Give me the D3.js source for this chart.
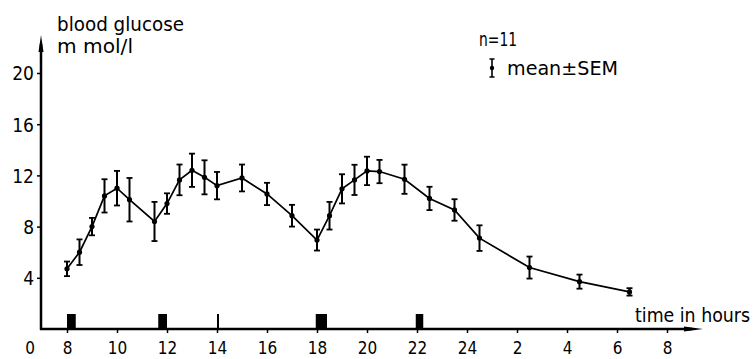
<!DOCTYPE html>
<html><head><meta charset="utf-8">
<script src="https://cdn.jsdelivr.net/npm/d3@7"></script>
<style>
html,body{margin:0;padding:0;background:#fff;}
svg{display:block;}
text{font-family:"Liberation Sans Narrow","DejaVu Sans Condensed","Liberation Sans",sans-serif;fill:#000;}
</style></head>
<body>
<script>
// time of day in hours (values > 24 belong to the next day)
const hours  = [8, 8.5, 9, 9.5, 10, 10.5, 11.5, 12, 12.5, 13, 13.5, 14, 15, 16, 17, 18, 18.5, 19, 19.5, 20, 20.5, 21.5, 22.5, 23.5, 24.5, 26.5, 28.5, 30.5];
// mean blood glucose, mmol/l
const means  = [4.7, 6.0, 8.0, 10.4, 11.0, 10.1, 8.4, 9.8, 11.65, 12.4, 11.85, 11.2, 11.8, 10.55, 8.85, 6.95, 8.85, 10.95, 11.65, 12.35, 12.3, 11.7, 10.2, 9.3, 7.1, 4.8, 3.7, 2.9];
// standard error of the mean
const sems   = [0.57, 1.0, 0.68, 1.3, 1.35, 1.7, 1.53, 0.8, 1.2, 1.3, 1.33, 1.07, 1.05, 0.87, 0.85, 0.82, 1.08, 1.14, 1.18, 1.11, 0.91, 1.14, 0.91, 0.84, 1.0, 0.86, 0.55, 0.29];
// meals (start, end in hours)
const mealStart = [8, 11.65, 14, 17.95, 21.95];
const mealEnd   = [8.35, 12, 14.06, 18.4, 22.25];
// ticks
const xTicks = [8, 10, 12, 14, 16, 18, 20, 22, 24, 26, 28, 30, 32];
const xTickLabels = ["8", "10", "12", "14", "16", "18", "20", "22", "24", "2", "4", "6", "8"];
const yTicks = [4, 8, 12, 16, 20];
const originLabel = "0";

const W = 755, H = 359;
const svg = d3.select("body").append("svg").attr("width", W).attr("height", H);

const x = d3.scaleLinear().domain([8, 32]).range([67, 667]);
const y = d3.scaleLinear().domain([0, 20]).range([329, 73]);
const axisX = 41, axisY = y(0);

// x axis ticks
const xAxis = d3.axisBottom(x).tickValues(xTicks).tickSize(4).tickSizeOuter(0)
  .tickFormat((d, i) => xTickLabels[i]);
const gx = svg.append("g").attr("transform", `translate(0,${axisY})`).call(xAxis);
gx.select(".domain").remove();
gx.selectAll(".tick line").attr("stroke", "#000").attr("stroke-width", 1.5);
gx.selectAll(".tick text").attr("font-size", 17).attr("dy", 0).attr("y", 25);
svg.append("text").attr("x", 30).attr("y", axisY + 25).attr("text-anchor", "middle")
  .attr("font-size", 17).text(originLabel);

// y axis ticks
const yAxis = d3.axisLeft(y).tickValues(yTicks).tickSize(4).tickSizeOuter(0).tickPadding(3);
const gy = svg.append("g").attr("transform", `translate(${axisX},0)`).call(yAxis);
gy.select(".domain").remove();
gy.selectAll(".tick line").attr("stroke", "#000").attr("stroke-width", 1.5);
gy.selectAll(".tick text").attr("font-size", 19).attr("dy", "0.36em");

// axis lines with arrows
svg.append("line").attr("x1", axisX).attr("y1", axisY + 1).attr("x2", axisX).attr("y2", 44)
  .attr("stroke", "#000").attr("stroke-width", 2.5);
svg.append("path").attr("d", `M${axisX},35 L${axisX - 2.5},52 L${axisX + 2.5},52 Z`).attr("fill", "#000");
svg.append("line").attr("x1", axisX - 1).attr("y1", axisY).attr("x2", 692).attr("y2", axisY)
  .attr("stroke", "#000").attr("stroke-width", 2.5);
svg.append("path").attr("d", `M703,${axisY} L684,${axisY - 2.5} L684,${axisY + 2.5} Z`).attr("fill", "#000");

// meal bars
svg.append("g").selectAll("rect").data(mealStart).join("rect")
  .attr("x", (d) => x(d))
  .attr("width", (d, i) => Math.max(2, x(mealEnd[i]) - x(d)))
  .attr("y", axisY - 15).attr("height", 15).attr("fill", "#000");

// line
const pts = hours.map((h, i) => ({h, m: means[i], s: sems[i]}));
svg.append("path").datum(pts)
  .attr("d", d3.line().x(d => x(d.h)).y(d => y(d.m)))
  .attr("fill", "none").attr("stroke", "#000").attr("stroke-width", 1.7);

// error bars
const eb = svg.append("g").selectAll("g").data(pts).join("g");
eb.append("line").attr("x1", d => x(d.h)).attr("x2", d => x(d.h))
  .attr("y1", d => y(d.m - d.s)).attr("y2", d => y(d.m + d.s))
  .attr("stroke", "#000").attr("stroke-width", 2);
eb.append("line").attr("x1", d => x(d.h) - 3).attr("x2", d => x(d.h) + 3)
  .attr("y1", d => y(d.m + d.s)).attr("y2", d => y(d.m + d.s))
  .attr("stroke", "#000").attr("stroke-width", 1.8);
eb.append("line").attr("x1", d => x(d.h) - 3).attr("x2", d => x(d.h) + 3)
  .attr("y1", d => y(d.m - d.s)).attr("y2", d => y(d.m - d.s))
  .attr("stroke", "#000").attr("stroke-width", 1.8);
eb.append("circle").attr("cx", d => x(d.h)).attr("cy", d => y(d.m)).attr("r", 2.6).attr("fill", "#000");

// titles
svg.append("text").attr("x", 57).attr("y", 31).attr("font-size", 20)
  .attr("textLength", 127).attr("lengthAdjust", "spacingAndGlyphs").text("blood glucose");
svg.append("text").attr("x", 57).attr("y", 53).attr("font-size", 20)
  .attr("textLength", 76).attr("lengthAdjust", "spacingAndGlyphs").text("m mol/l");
svg.append("text").attr("x", 635).attr("y", 322).attr("font-size", 20)
  .attr("textLength", 115).attr("lengthAdjust", "spacingAndGlyphs").text("time in hours");

// legend
svg.append("text").attr("x", 479).attr("y", 46).attr("font-size", 19)
  .attr("textLength", 38).attr("lengthAdjust", "spacingAndGlyphs").text("n=11");
const lg = svg.append("g");
lg.append("line").attr("x1", 492).attr("x2", 492).attr("y1", 59).attr("y2", 77).attr("stroke", "#000").attr("stroke-width", 1.6);
lg.append("line").attr("x1", 489.5).attr("x2", 494.5).attr("y1", 59).attr("y2", 59).attr("stroke", "#000").attr("stroke-width", 1.5);
lg.append("line").attr("x1", 489.5).attr("x2", 494.5).attr("y1", 77).attr("y2", 77).attr("stroke", "#000").attr("stroke-width", 1.5);
lg.append("circle").attr("cx", 492).attr("cy", 68).attr("r", 2.2).attr("fill", "#000");
svg.append("text").attr("x", 507).attr("y", 75).attr("font-size", 20)
  .attr("textLength", 111).attr("lengthAdjust", "spacingAndGlyphs").text("mean±SEM");
</script>
</body></html>
